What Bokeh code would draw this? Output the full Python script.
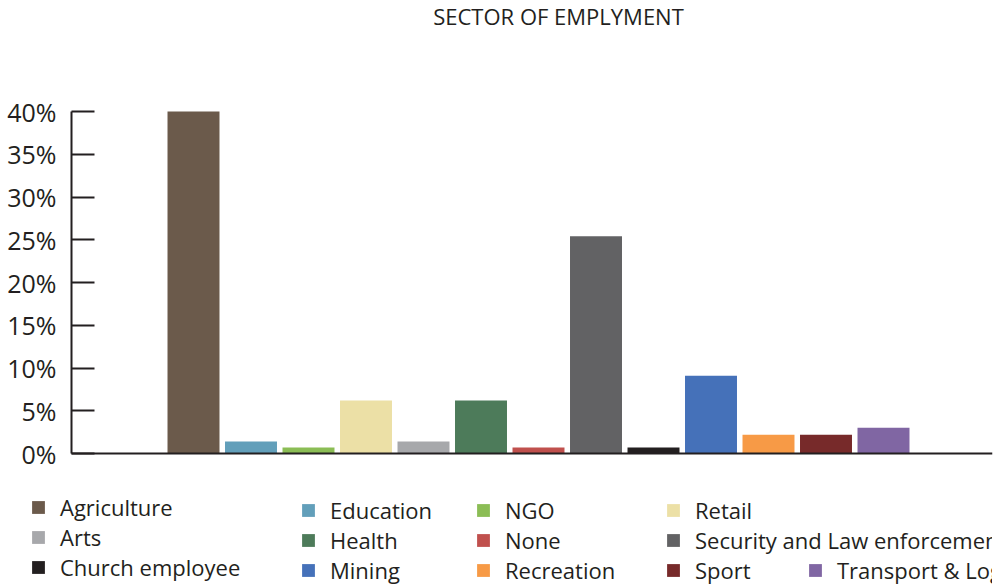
from bokeh.plotting import figure
from bokeh.models import (ColumnDataSource, Legend, LegendItem, FixedTicker,
                          PrintfTickFormatter, Range1d, LinearAxis, Label)
from bokeh.embed import file_html
from bokeh.resources import INLINE

# ---- data ----
sectors = ["Agriculture", "Education", "NGO", "Retail", "Arts", "Health", "None",
           "Security and Law enforcement", "Church employee", "Mining",
           "Recreation", "Sport", "Transport & Logistics"]
shares = [40.0, 1.4, 0.7, 6.2, 1.4, 6.2, 0.7, 25.4, 0.7, 9.1, 2.2, 2.2, 3.0]
colors = ["#6b5a4b", "#629fba", "#8bbd55", "#ece0a6", "#a7a8ab", "#4d7b5a", "#c0504d",
          "#626264", "#231f20", "#4571b9", "#f79a46", "#772a2a", "#8066a3"]
y_ticks = [0, 5, 10, 15, 20, 25, 30, 35, 40]
title_text = "SECTOR OF EMPLYMENT"

# legend columns (indices into sectors)
legend_columns = [[0, 4, 8], [1, 5, 9], [2, 6, 10], [3, 7, 11], [12]]

src = ColumnDataSource(dict(x=list(range(len(sectors))), top=shares,
                            name=sectors, color=colors))

FONT = "Open Sans"
INK = "#231f20"

W, H = 999, 586
# layout: slot pitch (px) and where things sit
pitch = 57.5
first_center = 193.0
axis_px = 71.0
right_px = 992.0
zero_px, top_px = 453.0, 111.0
ppu = (zero_px - top_px) / 40.0

x_start = (0 - first_center) / pitch
x_end = (right_px - first_center) / pitch
x_axis_pos = (axis_px - first_center) / pitch
y_start = -(H - zero_px) / ppu
y_end = 40 + top_px / ppu

p = figure(width=W, height=H, output_backend="svg", toolbar_location=None,
           x_axis_location=None,
           x_range=Range1d(x_start, x_end), y_range=Range1d(y_start, y_end),
           min_border_left=0, min_border_right=int(W - right_px),
           min_border_bottom=0, min_border_top=0)
p.outline_line_color = None
p.grid.visible = False
p.background_fill_color = "white"

title = Label(x=558, y=H - 15, x_units="screen", y_units="screen",
              text=title_text, text_font=FONT, text_font_size="22px",
              text_color=INK, text_align="center", text_baseline="middle")
p.add_layout(title)

r = p.vbar(x="x", top="top", bottom=0, width=0.904, source=src,
           fill_color="color", line_color=None)

xa = LinearAxis(fixed_location=0, bounds=(x_axis_pos, x_end),
                major_tick_line_color=None, minor_tick_line_color=None,
                major_label_text_color=None, major_label_text_font_size="0px",
                axis_line_color=INK, axis_line_width=2)
p.add_layout(xa, "below")

ax = p.yaxis[0]
ax.fixed_location = x_axis_pos
ax.ticker = FixedTicker(ticks=y_ticks)
ax.formatter = PrintfTickFormatter(format="%d%%")
ax.bounds = (0, 40)
ax.axis_line_color = INK
ax.axis_line_width = 2
ax.major_tick_line_color = INK
ax.major_tick_line_width = 2
ax.major_tick_in = 23
ax.major_tick_out = 0
ax.minor_tick_line_color = None
ax.major_label_text_font = FONT
ax.major_label_text_font_size = "25px"
ax.major_label_text_color = INK
ax.major_label_standoff = 15

col_x = [30, 300, 475, 665, 807]
col_y = [4, 1, 1, 1, 1]
for ci, col in enumerate(legend_columns):
    items = [LegendItem(label=sectors[i], renderers=[r], index=i) for i in col]
    lg = Legend(items=items, location=(col_x[ci], col_y[ci]),
                orientation="vertical", padding=0, margin=0, spacing=0,
                border_line_color=None, background_fill_alpha=0,
                glyph_width=16, glyph_height=16, label_height=29,
                label_standoff=14, label_text_font=FONT,
                label_text_font_size="22px", label_text_color=INK)
    p.add_layout(lg, "center")

open("out.html", "w").write(file_html(p, INLINE))
